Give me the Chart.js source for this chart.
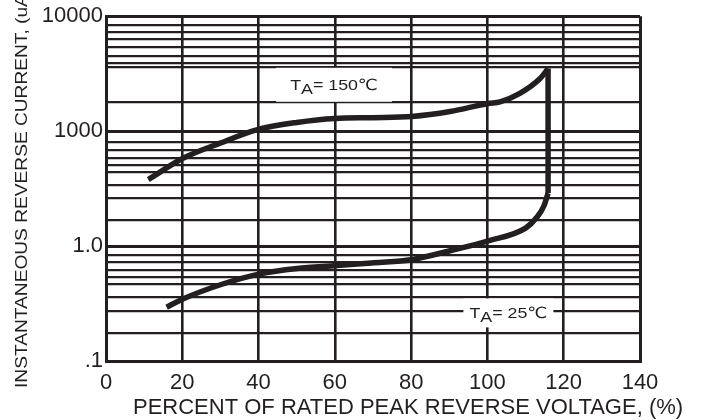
<!DOCTYPE html>
<html><head><meta charset="utf-8">
<script src="https://cdn.jsdelivr.net/npm/chart.js@4.4.1/dist/chart.umd.min.js"></script>
<style>html,body{margin:0;padding:0;background:#fff}canvas{display:block}</style>
</head><body>
<canvas id="c" width="705" height="420"></canvas>
<script>
// ---- data ----
const xTickValues = [0, 20, 40, 60, 80, 100, 120, 140];
const xTickLabels = ['0', '20', '40', '60', '80', '100', '120', '140'];
const yTickValues = [0.1, 1, 10, 100];
const yTickLabels = ['.1', '1.0', '1000', '10000'];
// horizontal grid lines as drawn in the reference (log axis)
const yGridValues = [0.1, 0.176, 0.272, 0.359, 0.469, 0.535, 0.620, 0.722, 0.841,
  1, 1.69, 2.60, 3.39, 4.41, 5.11, 5.83, 6.89, 8.02,
  10, 18.0, 35.9, 39.4, 45.0, 53.8, 63.6, 72.6, 82.9, 100];

// T_A = 150 C curve
const hotX = [11.1, 20.3, 29.9, 39.5, 50, 60, 70, 80.2, 90.2, 100.2, 103.3, 108.5, 113.8, 115.9];
const hotY = [3.79, 5.83, 7.86, 10.26, 11.9, 12.9, 13.1, 13.4, 14.8, 17.4, 18.0, 21.3, 28.7, 35.0];
// T_A = 25 C curve
const coldX = [15.9, 20.3, 30.2, 40.4, 50.1, 60.5, 70.3, 80, 90.2, 100.2, 110.1, 112.9, 114.8, 115.9];
const coldY = [0.294, 0.348, 0.463, 0.573, 0.637, 0.676, 0.717, 0.761, 0.911, 1.11, 1.44, 1.77, 2.23, 2.89];
// vertical rise joining both curves
const riseX = [115.9, 115.9];
const riseY = [2.89, 35.0];

// curve labels
const labelTemps = ['150℃', '25℃'];
const labelX = [59.8, 105.5];
const labelY = [25.3, 0.262];

const xTitle = 'PERCENT OF RATED PEAK REVERSE VOLTAGE, (%)';
const yTitle = 'INSTANTANEOUS REVERSE CURRENT, (uA)';

// ---- chart ----
const INK = '#231f20';
const FAM = '"Liberation Sans", Arial, "DejaVu Sans", sans-serif';
const toPts = (xs, ys) => xs.map((x, i) => ({ x: x, y: ys[i] }));

const labelBoxes = [{ padX: 14, boxH: 34 }, { padX: 6, boxH: 29 }];

const annotate = {
  id: 'annotate',
  afterDatasetsDraw(chart) {
    const { ctx, scales: { x, y } } = chart;
    labelTemps.forEach((t, i) => {
      const cx = x.getPixelForValue(labelX[i]);
      const cy = y.getPixelForValue(labelY[i]);
      const size = 15.5, sx = 1.15;
      ctx.save();
      ctx.font = size + 'px ' + FAM;
      const parts = [['T', 0], ['A', 4], ['= ' + t, 0]];
      const ws = parts.map(p => ctx.measureText(p[0]).width * sx);
      const total = ws.reduce((a, b) => a + b, 0);
      const b = labelBoxes[i];
      ctx.fillStyle = '#fff';
      ctx.fillRect(cx - total / 2 - b.padX, cy - b.boxH / 2, total + 2 * b.padX, b.boxH);
      ctx.fillStyle = INK;
      ctx.textBaseline = 'alphabetic';
      ctx.textAlign = 'left';
      let px = cx - total / 2;
      const base = cy + size * 0.716 / 2;
      parts.forEach((p, k) => {
        ctx.save();
        ctx.translate(px, base + p[1]);
        ctx.scale(sx, 1);
        ctx.fillText(p[0], 0, 0);
        ctx.restore();
        px += ws[k];
      });
      ctx.restore();
    });
  },
  afterDraw(chart) {
    const { ctx, chartArea: a } = chart;
    ctx.save();
    ctx.fillStyle = INK;
    ctx.textAlign = 'left';
    ctx.textBaseline = 'alphabetic';
    ctx.font = '22px ' + FAM;
    ctx.fillText(xTitle, a.left + 27, a.bottom + 52.5);
    ctx.translate(a.left - 79.3, a.bottom + 27);
    ctx.rotate(-Math.PI / 2);
    ctx.scale(1.16, 1);
    ctx.font = '16.5px ' + FAM;
    ctx.fillText(yTitle, 0, 0);
    ctx.restore();
  }
};

const lineStyle = {
  borderColor: INK, borderWidth: 5.5, pointRadius: 0, fill: false,
  cubicInterpolationMode: 'monotone', borderCapStyle: 'butt', borderJoinStyle: 'round'
};

new Chart(document.getElementById('c'), {
  type: 'line',
  data: {
    datasets: [
      Object.assign({ label: 'TA = 150℃', data: toPts(hotX, hotY) }, lineStyle),
      Object.assign({ label: 'TA = 25℃', data: toPts(coldX, coldY) }, lineStyle),
      Object.assign({ label: 'rise', data: toPts(riseX, riseY) }, lineStyle, { cubicInterpolationMode: 'default', tension: 0 })
    ]
  },
  options: {
    responsive: false,
    animation: false,
    devicePixelRatio: 1,
    layout: { padding: { top: 14, right: 65, left: 0, bottom: 0 } },
    plugins: { legend: { display: false }, tooltip: { enabled: false }, title: { display: false } },
    scales: {
      x: {
        type: 'linear', min: 0, max: 140,
        afterBuildTicks: s => { s.ticks = xTickValues.map(v => ({ value: v })); },
        afterFit: s => { s.height = 59; },
        ticks: {
          autoSkip: false, maxRotation: 0, padding: 9, color: INK,
          font: { family: FAM, size: 22 },
          callback: (v) => { const i = xTickValues.indexOf(v); return i < 0 ? '' : xTickLabels[i]; }
        },
        grid: {
          drawTicks: false, color: INK,
          lineWidth: c => (c.tick && (c.tick.value === 0 || c.tick.value === 140)) ? 3 : 2.6
        },
        border: { display: true, color: INK, width: 3 }
      },
      y: {
        type: 'logarithmic', min: 0.1, max: 100,
        afterBuildTicks: s => { s.ticks = yGridValues.map(v => ({ value: v, major: yTickValues.includes(v) })); },
        afterFit: s => { s.width = 106; },
        ticks: {
          autoSkip: false, padding: 3, color: INK,
          font: { family: FAM, size: 22 },
          callback: (v) => { const i = yTickValues.indexOf(v); return i < 0 ? '' : yTickLabels[i]; }
        },
        grid: {
          drawTicks: false, color: INK,
          lineWidth: c => (c.tick && yTickValues.includes(c.tick.value)) ? 3 : 2.2
        },
        border: { display: true, color: INK, width: 3 }
      }
    }
  },
  plugins: [annotate]
});
</script>
</body></html>
